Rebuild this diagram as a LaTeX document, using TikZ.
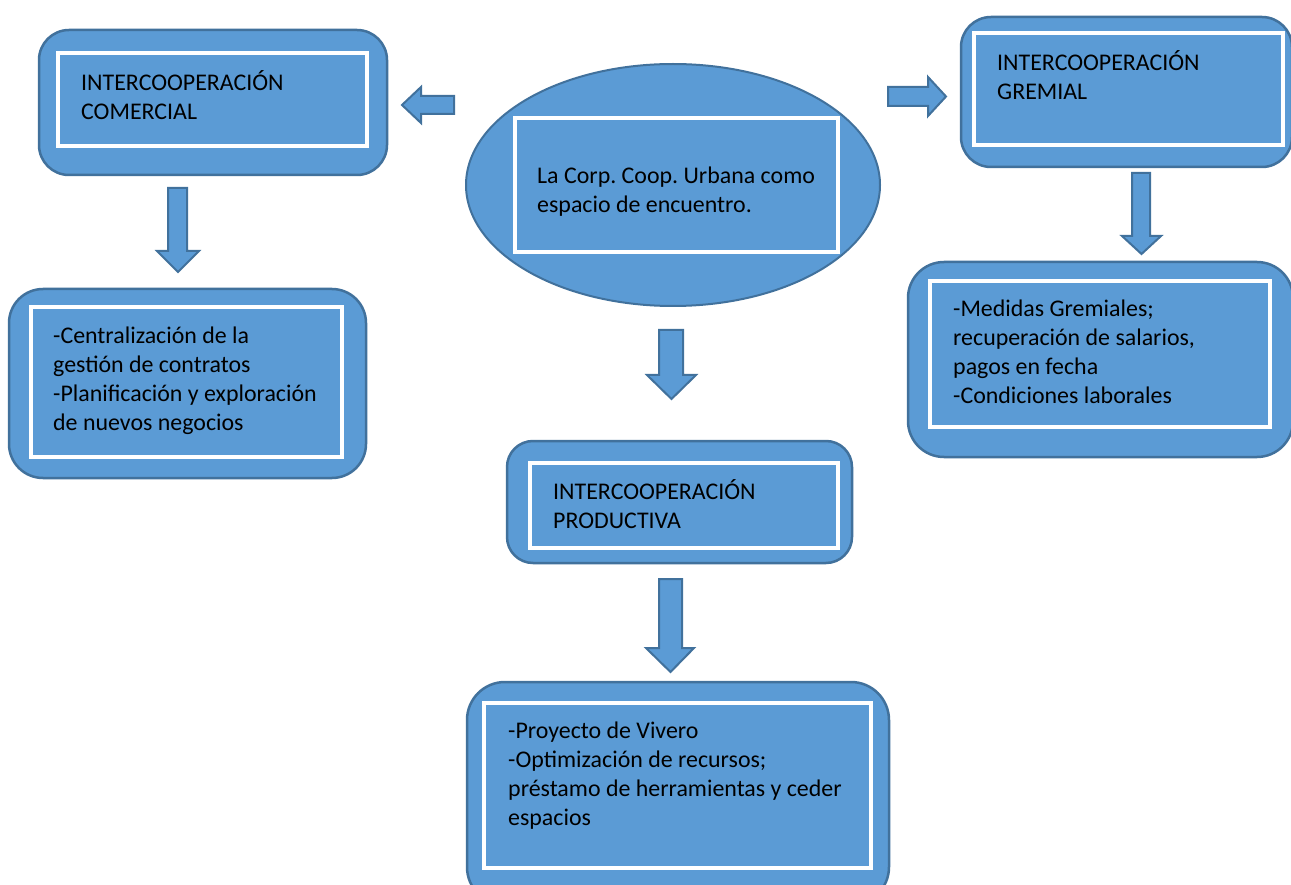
\documentclass[tikz,border=0pt]{standalone}
\usepackage{fontspec}
\setmainfont{Carlito}
\usetikzlibrary{shapes.geometric}
\definecolor{boxfill}{HTML}{5B9BD5}
\definecolor{boxline}{HTML}{41719C}
\tikzset{
  outerbox/.style={draw=boxline, fill=boxfill, line width=2.5pt, inner sep=0pt},
  innerbox/.style={draw=white, fill=boxfill, line width=4pt, inner sep=0pt, rectangle},
  ovalbox/.style={ellipse, draw=boxline, fill=boxfill, line width=2pt, inner sep=0pt},
  txt/.style={anchor=north west, inner sep=0pt, align=left, text=black,
    font=\fontsize{23.9}{29}\selectfont\frenchspacing},
  barrow/.style={draw=boxline, fill=boxfill, line width=2pt, line join=miter}
}
\newcommand{\fl}{\rule{0pt}{20pt}}
\begin{document}
\frenchspacing
\begin{tikzpicture}[x=1pt,y=-1pt]
\useasboundingbox (0,0) rectangle (1291,885);
\fill[white] (0,0) rectangle (1291,885);

% outer rounded boxes
\node[outerbox, rounded corners=30pt, minimum width=348pt, minimum height=145pt] (com) at (213,102.5) {};
\node[outerbox, rounded corners=30pt, minimum width=331pt, minimum height=150pt] (gre) at (1126.5,92) {};
\node[ovalbox, minimum width=414pt, minimum height=242pt] (cen) at (673,185) {};
\node[outerbox, rounded corners=34pt, minimum width=357pt, minimum height=189pt] (comd) at (187.5,383.5) {};
\node[outerbox, rounded corners=36pt, minimum width=385pt, minimum height=195pt] (gred) at (1100.5,359.5) {};
\node[outerbox, rounded corners=26pt, minimum width=345pt, minimum height=122pt] (pro) at (679.5,502) {};
\node[outerbox, rounded corners=38pt, minimum width=422pt, minimum height=223pt] (prod) at (678,793.5) {};

% inner white-framed rectangles
\node[innerbox, minimum width=309pt, minimum height=93pt] (comi) at (212.5,99.5) {};
\node[innerbox, minimum width=309pt, minimum height=112pt] (grei) at (1128.5,89) {};
\node[innerbox, minimum width=323pt, minimum height=134pt] (ceni) at (676.5,185) {};
\node[innerbox, minimum width=311pt, minimum height=150pt] (comdi) at (186.5,382) {};
\node[innerbox, minimum width=340pt, minimum height=146pt] (gredi) at (1100,354) {};
\node[innerbox, minimum width=308pt, minimum height=85pt] (proi) at (684,505.5) {};
\node[innerbox, minimum width=387pt, minimum height=165pt] (prodi) at (677.5,785.5) {};

% texts
\node[txt] (comt) at (81,70) {\fl INTERCOOPERACIÓN\\COMERCIAL};
\node[txt] (gret) at (997,50) {\fl INTERCOOPERACIÓN\\GREMIAL};
\node[txt] (cent) at (537,163) {\fl La Corp. Coop. Urbana como\\espacio de encuentro.};
\node[txt] (comdt) at (53,323) {\fl -Centralización de la\\gestión de contratos\\-Planificación y exploración\\de nuevos negocios};
\node[txt] (gredt) at (953,296) {\fl -Medidas Gremiales;\\recuperación de salarios,\\pagos en fecha\\-Condiciones laborales};
\node[txt] (prot) at (553,479) {\fl INTERCOOPERACIÓN\\PRODUCTIVA};
\node[txt] (prodt) at (508,718) {\fl -Proyecto de Vivero\\-Optimización de recursos;\\préstamo de herramientas y ceder\\espacios};

% block arrows
\draw[barrow] (454,96) -- (421,96) -- (421,87) -- (402,105) -- (421,123) -- (421,114) -- (454,114) -- cycle;
\draw[barrow] (888,87) -- (928,87) -- (928,77) -- (946,96.5) -- (928,116) -- (928,106) -- (888,106) -- cycle;
\draw[barrow] (168,188) -- (187,188) -- (187,251) -- (199,251) -- (178,272) -- (157,251) -- (168,251) -- cycle;
\draw[barrow] (1132,173) -- (1150,173) -- (1150,236) -- (1161,236) -- (1141.5,254) -- (1122,236) -- (1132,236) -- cycle;
\draw[barrow] (659,330) -- (683,330) -- (683,375) -- (696,375) -- (671.5,399) -- (647,375) -- (659,375) -- cycle;
\draw[barrow] (659,579) -- (682,579) -- (682,648) -- (694,648) -- (670.5,672) -- (646,648) -- (659,648) -- cycle;
\end{tikzpicture}
\end{document}
